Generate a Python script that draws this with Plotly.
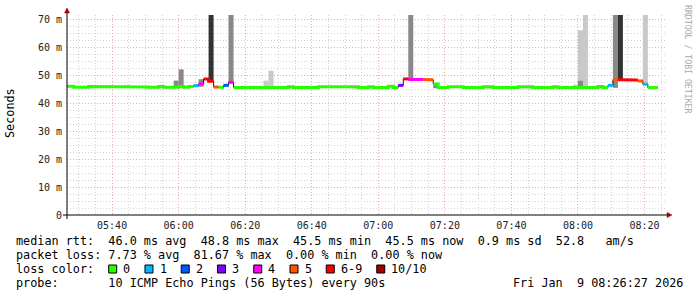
import plotly.graph_objects as go
import pandas as pd

# ---------------- data ----------------
DAY = "2026-01-09"
FIRST_STEP = "05:25:30"      # start of first 90 s step
STEP = "90s"
WINDOW_START = "05:26:27"
WINDOW_END = "08:26:27"

# median rtt per 90 s step (ms)
median_ms = [
    46.0, 46.0, 45.6, 45.6, 45.6, 45.9, 45.9, 45.9, 45.9, 45.9,
    45.9, 45.9, 45.7, 45.7, 45.7, 45.7, 45.7, 45.6, 45.6, 45.9,
    45.6, 45.6, 45.6, 45.9, 45.6, 45.9, 46.2, 46.8, 48.6, 47.8,
    45.7, 45.6, 46.3, 47.4, 45.5, 45.5, 45.5, 45.5, 45.5, 45.5,
    45.5, 45.5, 45.5, 45.5, 45.5, 45.8, 45.5, 45.5, 45.5, 45.5,
    45.5, 45.8, 45.8, 45.8, 45.8, 45.8, 45.8, 45.8, 45.8, 45.5,
    45.5, 45.8, 45.5, 45.5, 45.5, 46.0, 45.5, 46.3, 48.6, 48.4,
    48.4, 48.4, 48.4, 48.3, 46.8, 45.5, 45.5, 45.8, 45.8, 45.8,
    45.5, 45.5, 45.5, 45.5, 45.8, 45.8, 45.5, 45.5, 45.5, 45.5,
    45.5, 45.8, 45.8, 45.8, 45.5, 45.5, 45.5, 45.5, 45.8, 45.5,
    45.5, 45.5, 45.5, 45.5, 45.5, 45.5, 45.5, 45.9, 45.5, 46.3,
    48.3, 48.3, 48.2, 48.2, 48.2, 47.9, 46.7, 45.5, 45.5,
]

# lost pings out of 10 per step
loss_count = [
    0, 0, 0, 0, 0, 0, 0, 0, 0, 0,
    0, 0, 0, 0, 0, 0, 0, 0, 0, 0,
    0, 0, 0, 0, 0, 0, 1, 4, 7, 8,
    5, 0, 2, 4, 0, 0, 0, 0, 0, 0,
    0, 0, 0, 0, 0, 0, 0, 0, 0, 0,
    0, 0, 0, 0, 0, 0, 0, 0, 0, 0,
    0, 0, 0, 0, 0, 0, 0, 3, 7, 4,
    4, 4, 5, 5, 0, 0, 0, 0, 0, 0,
    0, 0, 0, 0, 0, 0, 0, 0, 0, 0,
    0, 0, 0, 0, 0, 0, 0, 0, 0, 0,
    0, 0, 0, 0, 0, 0, 0, 0, 0, 1,
    5, 8, 7, 7, 7, 5, 1, 0, 0,
]

# smoke (ping spread) per step: (step start, low ms, high ms)
smoke_dark = [("06:09:00", 47.5, 80.0), ("08:12:00", 48.0, 80.0)]
smoke_mid = [("05:58:30", 45.4, 48.0), ("06:00:00", 45.4, 52.0), ("06:06:00", 45.8, 48.5),
             ("06:15:00", 47.0, 80.0), ("07:09:00", 48.0, 80.0), ("07:16:30", 45.3, 46.8),
             ("08:00:00", 45.4, 48.0), ("08:10:30", 45.4, 80.0)]
smoke_light = [("05:43:30", 45.5, 46.5), ("06:25:30", 45.4, 48.0), ("06:27:00", 45.4, 51.5),
               ("07:58:30", 45.4, 46.5), ("08:00:00", 48.0, 66.0), ("08:01:30", 45.4, 80.0),
               ("08:19:30", 46.5, 80.0)]

loss_labels = ["0", "1", "2", "3", "4", "5", "6-9", "10/10"]
loss_members = [[0], [1], [2], [3], [4], [5], [6, 7, 8, 9], [10]]
loss_colors = ["#26ff00", "#00b8ff", "#0059ff", "#7e00ff", "#ff00ff", "#ff5500", "#ff0000", "#a10000"]

y_ticks = [0, 10, 20, 30, 40, 50, 60, 70]
y_tick_text = ["0", "10 m", "20 m", "30 m", "40 m", "50 m", "60 m", "70 m"]

legend_lines = [
    "median rtt:  46.0 ms avg  48.8 ms max  45.5 ms min  45.5 ms now  0.9 ms sd  52.8   am/s",
    "packet loss: 7.73 % avg  81.67 % max  0.00 % min  0.00 % now",
    "loss color:",
    "probe:       10 ICMP Echo Pings (56 Bytes) every 90s",
]
stamp = "Fri Jan  9 08:26:27 2026"

# ---------------- geometry ----------------
W, H = 697, 297
ML, MT = 67, 15
PW, PH = 599, 200
MR, MB = W - ML - PW, H - MT - PH


def px(x):
    return (x - ML) / PW


def py(y):
    return (MT + PH - y) / PH


MONO = "DejaVu Sans Mono"
step = pd.Timedelta(STEP)
starts = pd.date_range(f"{DAY} {FIRST_STEP}", periods=len(median_ms), freq=STEP)
ends = starts + step

fig = go.Figure()

# smoke
for data, col in [(smoke_light, "#c8c8c8"), (smoke_mid, "#888888"), (smoke_dark, "#333333")]:
    t = [pd.Timestamp(f"{DAY} {s}") + step / 2 for s, lo, hi in data]
    fig.add_trace(go.Bar(x=t, y=[hi - lo for s, lo, hi in data], base=[lo for s, lo, hi in data],
                         width=step.total_seconds() * 1000, marker=dict(color=col, line=dict(width=0)),
                         hoverinfo="skip", showlegend=False))

# thin median line
fig.add_trace(go.Scatter(x=list(starts) + [ends[-1]], y=median_ms + [median_ms[-1]],
                         mode="lines", line=dict(color="#101010", width=1, shape="hv"),
                         hoverinfo="skip", showlegend=False))

# loss coloured median
for members, col in zip(loss_members, loss_colors):
    xs, ys = [], []
    prev = False
    for i, (m, l) in enumerate(zip(median_ms, loss_count)):
        if l in members:
            if not prev and xs:
                xs.append(None)
                ys.append(None)
            xs += [starts[i], ends[i]]
            ys += [m, m]
            prev = True
        else:
            prev = False
    if xs:
        fig.add_trace(go.Scatter(x=xs, y=ys, mode="lines", line=dict(color=col, width=3),
                                 hoverinfo="skip", showlegend=False, connectgaps=False))

MAJ = "#f0a8a8"
MIN = "#d4d4d4"
fig.update_layout(
    width=W, height=H, margin=dict(l=ML, r=MR, t=MT, b=MB, pad=0),
    paper_bgcolor="white", plot_bgcolor="white", barmode="overlay", showlegend=False,
    xaxis=dict(type="date", range=[f"{DAY} {WINDOW_START}", f"{DAY} {WINDOW_END}"],
               tickmode="linear", tick0=f"{DAY} 05:40:00", dtick=20 * 60 * 1000,
               tickformat="%H:%M", showgrid=True, gridcolor=MAJ, griddash="1px,2px", gridwidth=1,
               minor=dict(tick0=f"{DAY} 05:40:00", dtick=5 * 60 * 1000, showgrid=True,
                          gridcolor=MIN, griddash="1px,2px", gridwidth=1),
               ticks="", showline=False, zeroline=False, ticklabelstandoff=3,
               tickfont=dict(family=MONO, size=10, color="#222")),
    yaxis=dict(range=[0, 71.43], tickmode="array", tickvals=y_ticks, ticktext=y_tick_text,
               showgrid=True, gridcolor=MAJ, griddash="1px,2px", gridwidth=1,
               minor=dict(tickmode="linear", tick0=0, dtick=2.5, showgrid=True,
                          gridcolor=MIN, griddash="1px,2px", gridwidth=1),
               ticks="", showline=False, zeroline=False, ticklabelstandoff=4,
               tickfont=dict(family=MONO, size=10, color="#222")),
)

shapes = []
# axes with arrows
shapes.append(dict(type="line", xref="paper", yref="paper", x0=px(63), x1=px(668), y0=py(215), y1=py(215),
                   line=dict(color="#000", width=1)))
shapes.append(dict(type="line", xref="paper", yref="paper", x0=px(67), x1=px(67), y0=py(219), y1=py(12),
                   line=dict(color="#000", width=1)))
shapes.append(dict(type="path", xref="paper", yref="paper",
                   path=f"M {px(667)} {py(212.5)} L {px(672)} {py(215)} L {px(667)} {py(217.5)} Z",
                   fillcolor="#a00000", line=dict(color="#a00000", width=0.5)))
shapes.append(dict(type="path", xref="paper", yref="paper",
                   path=f"M {px(64.5)} {py(13)} L {px(67)} {py(8)} L {px(69.5)} {py(13)} Z",
                   fillcolor="#a00000", line=dict(color="#a00000", width=0.5)))

annotations = []
line_y = [241, 255, 269, 283]
for txt, yy in zip(legend_lines, line_y):
    annotations.append(dict(xref="paper", yref="paper", x=px(14), y=py(yy), xanchor="left", yanchor="middle",
                            text=txt.replace(" ", "\u00a0"), showarrow=False,
                            font=dict(family=MONO, size=11.8, color="#000")))
annotations.append(dict(xref="paper", yref="paper", x=px(511), y=py(283), xanchor="left", yanchor="middle",
                        text=stamp.replace(" ", "\u00a0"), showarrow=False,
                        font=dict(family=MONO, size=11.8, color="#000")))

# loss colour boxes
sx = 108.7
for lab, col in zip(loss_labels, loss_colors):
    shapes.append(dict(type="rect", xref="paper", yref="paper", x0=px(sx), x1=px(sx + 8),
                       y0=py(273), y1=py(265), fillcolor=col, line=dict(color="#000", width=1)))
    annotations.append(dict(xref="paper", yref="paper", x=px(sx + 12.7), y=py(269), xanchor="left",
                            yanchor="middle", text=lab, showarrow=False,
                            font=dict(family=MONO, size=11.8, color="#000")))
    sx += 14.9 + (len(lab) + 2) * 7.12

# y axis title
annotations.append(dict(xref="paper", yref="paper", x=px(10), y=py(113), xanchor="center", yanchor="middle",
                        text="Seconds", textangle=-90, showarrow=False,
                        font=dict(family=MONO, size=11.8, color="#000")))
# watermark
annotations.append(dict(xref="paper", yref="paper", x=px(688), y=py(59), xanchor="center", yanchor="middle",
                        text="RRDTOOL / TOBI OETIKER", textangle=90, showarrow=False,
                        font=dict(family=MONO, size=8.2, color="#aaaaaa")))

fig.update_layout(shapes=shapes, annotations=annotations)
fig.write_html("out.html")
